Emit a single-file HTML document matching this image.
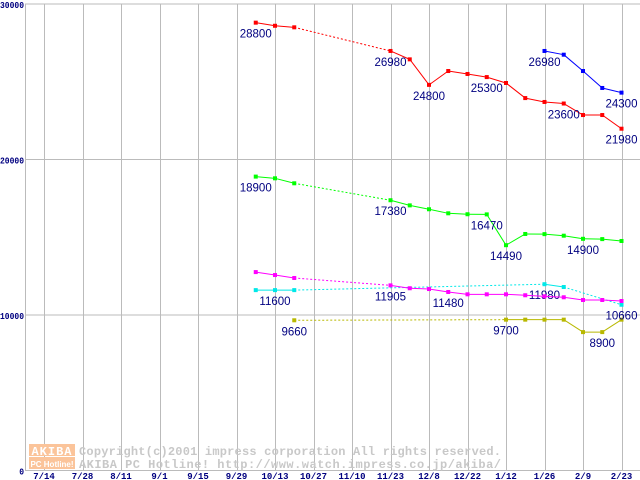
<!DOCTYPE html>
<html><head><meta charset="utf-8"><style>
html,body{margin:0;padding:0;background:#fff;width:640px;height:480px;overflow:hidden}
svg{display:block}
</style></head><body>
<svg id="chart" width="640" height="480" xmlns="http://www.w3.org/2000/svg">
<g id="grid"></g>
<g id="wm">
<rect x="29" y="444" width="46" height="12" fill="#fbc49a"/>
<rect x="29" y="457" width="46" height="12" fill="#fbc49a"/>
<text x="52" y="455" text-anchor="middle" font-family="Liberation Mono, monospace" font-weight="bold" font-size="12" fill="#fff" letter-spacing="1">AKIBA</text>
<text x="52" y="467" text-anchor="middle" font-family="Liberation Sans, sans-serif" font-weight="bold" font-size="8" fill="#fff">PC Hotline!</text>
<text x="79" y="455" font-family="Liberation Mono, monospace" font-weight="bold" font-size="12" fill="#c8c8c8" textLength="422">Copyright(c)2001 impress corporation All rights reserved.</text>
<text x="79" y="468" font-family="Liberation Mono, monospace" font-weight="bold" font-size="12" fill="#c8c8c8" textLength="422">AKIBA PC Hotline!  http://www.watch.impress.co.jp/akiba/</text>
</g>
<g id="series"></g>
<g id="axes"></g>
</svg>
<script>
const weekStart = 11;
const xTickLabels = ["7/14","7/28","8/11","9/1","9/15","9/29","10/13","10/27","11/10","11/23","12/8","12/22","1/12","1/26","2/9","2/23"];
const yTicks = [0,10000,20000,30000];
const red = [28800,28600,28500,null,null,null,null,26980,26440,24800,25690,25500,25300,24920,23950,23700,23600,22860,22860,21980];
const blue = [null,null,null,null,null,null,null,null,null,null,null,null,null,null,null,26980,26740,25690,24600,24300];
const green = [18900,18790,18470,null,null,null,null,17380,17050,16800,16540,16480,16470,14490,15210,15200,15100,14900,14880,14760];
const magenta = [12760,12570,12380,null,null,null,null,11905,11720,11670,11480,11330,11330,11330,11270,11200,11140,10965,10965,10900];
const cyan = [11600,11600,11600,null,null,null,null,null,null,null,null,null,null,null,null,11980,11800,null,null,10660];
const olive = [null,null,9660,null,null,null,null,null,null,null,null,null,null,9700,9700,9700,9700,8900,8900,9700];
const redLabels = [11,18,20,23,27,30];
const blueLabels = [26,30];
const greenLabels = [11,18,23,24,28];
const magentaLabels = [18,21];
const cyanLabels = [12,26,30];
const oliveLabels = [13,24,29];

const NS="http://www.w3.org/2000/svg";
function X(w){return 44+19.25*w;}
function Y(v){return 470.5-v*0.01555;}
function mk(tag,attrs,parent){const e=document.createElementNS(NS,tag);for(const k in attrs)e.setAttribute(k,attrs[k]);parent.appendChild(e);return e;}
const grid=document.getElementById('grid'),axes=document.getElementById('axes'),ser=document.getElementById('series');

yTicks.forEach(v=>{
  const l=mk('line',{x1:25,x2:640,y1:Y(v),y2:Y(v),stroke:'#bbb','stroke-width':1},grid);
  
  
  const s=String(v);
  const t=mk('text',{x:24,y:Y(v)+4,'text-anchor':'end','font-family':'Liberation Mono, monospace','font-size':9,'font-weight':'bold',fill:'#000080',textLength:s.length*4.8,lengthAdjust:'spacingAndGlyphs'},axes);
  t.textContent=s;
  
  
});
const ax=mk('line',{x1:25.5,x2:25.5,y1:4,y2:471,stroke:'#bbb','stroke-width':1},grid);


xTickLabels.forEach((s,k)=>{
  const x=Math.round(X(2*k))+0.5;
  const l=mk('line',{x1:x,x2:x,y1:4,y2:471,stroke:'#bbb','stroke-width':1},grid);
  
  
  const t=mk('text',{x:X(2*k),y:479,'text-anchor':'middle','font-family':'Liberation Mono, monospace','font-size':9,'font-weight':'bold',fill:'#000080'},axes);
  t.textContent=s;
  
  
});

function draw(name,vals,color,labels){
  const g=mk('g',{},ser);
  
  
  let prev=null;
  vals.forEach((v,i)=>{
    if(v==null)return;
    const w=weekStart+i;
    if(prev){
      const gap=(i-prev.i)>1;
      const l=mk('line',{x1:X(prev.w),y1:Y(prev.v),x2:X(w),y2:Y(v),stroke:color,'stroke-width':1},g);
      if(gap)l.setAttribute('stroke-dasharray','2,2');
      
      
    }
    prev={i,w,v};
  });
  vals.forEach((v,i)=>{
    if(v==null)return;
    const w=weekStart+i;
    const r=mk('rect',{x:X(w)-2,y:Y(v)-2,width:4,height:4,fill:color},g);
    
    
  });
  labels.forEach(w=>{
    const v=vals[w-weekStart];
    const t=mk('text',{x:X(w),y:Y(v)+15,'text-anchor':'middle','font-family':'Liberation Sans, sans-serif','font-size':11.5,fill:'#000080'},g);
    t.textContent=String(v);
    
    
  });
}
draw('olive',olive,'#b8b800',oliveLabels);
draw('cyan',cyan,'#00e8e8',cyanLabels);
draw('magenta',magenta,'#ff00ff',magentaLabels);
draw('green',green,'#00ff00',greenLabels);
draw('blue',blue,'#0000ff',blueLabels);
draw('red',red,'#ff0000',redLabels);
</script>
</body></html>
